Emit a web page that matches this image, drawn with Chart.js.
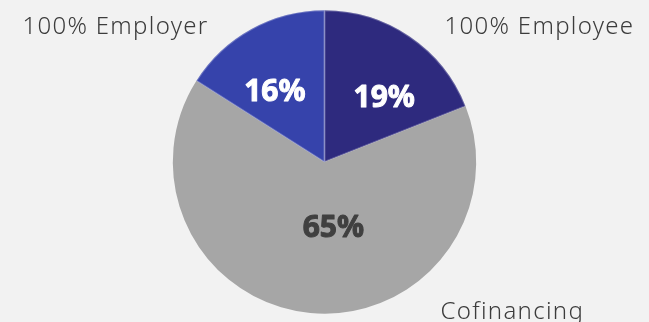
<!DOCTYPE html>
<html>
<head>
    <title>Funding split</title>
    <style>
        html, body {
            margin: 0;
            padding: 0;
            background: #f2f2f2;
        }
        #wrap {
            width: 649px;
            height: 322px;
        }
    </style>
    <script src="https://cdn.jsdelivr.net/npm/chart.js"></script>
</head>
<body>
    <div id="wrap"><canvas id="myChart" width="649" height="322"></canvas></div>
    <script>
        // slices go clockwise from 12 o'clock
        var categories = ['100% Employee', 'Cofinancing', '100% Employer'];
        var shares = [19, 65, 16];

        var sliceColors = ['#2e2a7e', '#a6a6a6', '#3643ab'];
        var valueColors = ['#ffffff', '#404040', '#ffffff'];

        // nudges for the percentage text, from the arc's own centre point
        var valueNudge = [[17, 8], [16, -1], [-13, 6]];
        // category names sit outside the pie: [dx, dy, align] from pie centre
        var namePlace = [[120, -128, 'left'], [116, 157, 'left'], [-116, -128, 'right']];

        var pieLabels = {
            id: 'pieLabels',
            afterDatasetsDraw: function (chart) {
                var ctx = chart.ctx;
                var arcs = chart.getDatasetMeta(0).data;
                ctx.save();
                arcs.forEach(function (arc, i) {
                    var p = arc.tooltipPosition();
                    var vx = p.x + valueNudge[i][0];
                    var vy = p.y + valueNudge[i][1];
                    ctx.font = 'bold 30px "Noto Sans"';
                    ctx.fillStyle = valueColors[i];
                    ctx.strokeStyle = valueColors[i];
                    ctx.lineWidth = 1;
                    ctx.lineJoin = 'round';
                    ctx.textAlign = 'center';
                    ctx.textBaseline = 'alphabetic';
                    ctx.fillText(shares[i] + '%', vx, vy);
                    ctx.strokeText(shares[i] + '%', vx, vy); // a touch heavier

                    ctx.font = '300 24px "Noto Sans"';
                    ctx.letterSpacing = '1.3px';
                    ctx.fillStyle = '#3c3c3c';
                    ctx.textAlign = namePlace[i][2];
                    ctx.fillText(categories[i], arc.x + namePlace[i][0], arc.y + namePlace[i][1]);
                    ctx.letterSpacing = '0px';
                });
                ctx.restore();
            }
        };

        var ctx = document.getElementById('myChart').getContext('2d');
        var myChart = new Chart(ctx, {
            type: 'pie',
            data: {
                labels: categories,
                datasets: [{
                    data: shares,
                    backgroundColor: sliceColors,
                    borderColor: ['rgba(255,255,255,0.25)', '#a6a6a6', 'rgba(255,255,255,0.25)'],
                    borderWidth: [1, 0, 1],
                    borderAlign: 'inner'
                }]
            },
            options: {
                responsive: false,
                animation: false,
                layout: { padding: { top: 10, bottom: 8 } },
                plugins: {
                    legend: { display: false },
                    tooltip: { enabled: false }
                }
            },
            plugins: [pieLabels]
        });
    </script>
</body>
</html>
